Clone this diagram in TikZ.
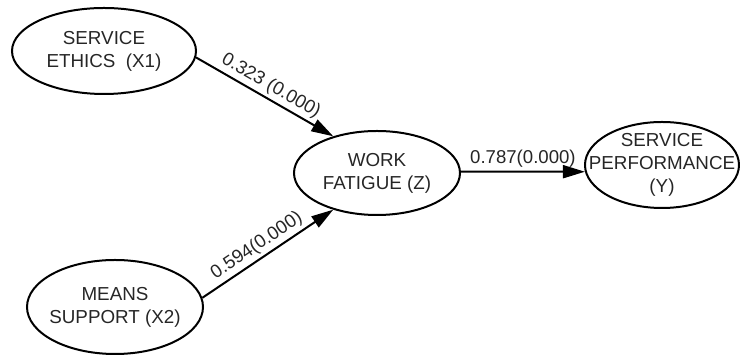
\documentclass[tikz,border=0pt]{standalone}
\usepackage{fontspec}
\setmainfont{Liberation Sans}
\usetikzlibrary{arrows.meta, shapes.geometric}

\begin{document}
\begin{tikzpicture}[x=0.5pt, y=-0.5pt,
  construct/.style={draw=black, line width=1pt, ellipse, inner sep=-10pt, align=center,
    text=black!85, font=\fontsize{9.4}{11.5}\selectfont},
  path/.style={line width=1pt, -{Triangle[length=11pt, width=6.5pt]}},
  coef/.style={font=\fontsize{9.3}{11}\selectfont, text=black!85, inner sep=1.5pt}]

  \useasboundingbox (0,0) rectangle (740,356);

  % -- Constructs --
  \node[construct, minimum width=92pt, minimum height=43pt] (ethics) at (104,51) {SERVICE\\ETHICS\ \ (X1)};
  \node[construct, minimum width=88pt, minimum height=47pt] (support) at (115,307) {MEANS\\SUPPORT (X2)};
  \node[construct, minimum width=83pt, minimum height=42pt] (fatigue) at (377,173) {WORK\\FATIGUE (Z)};
  \node[construct, minimum width=77pt, minimum height=43pt] (perform) at (662,165) {SERVICE\\PERFORMANCE\\(Y)};

  % -- Paths with coefficients --
  \draw[path] (ethics.-4) -- node[coef, sloped, above, pos=0.5] {0.323 (0.000)} (fatigue.140);
  \draw[path] (support.6) -- node[coef, sloped, above, pos=0.47] {0.594(0.000)} (fatigue.220);
  \draw[path] (fatigue.1) -- node[coef, above] {0.787(0.000)} (perform.185);

\end{tikzpicture}
\end{document}
